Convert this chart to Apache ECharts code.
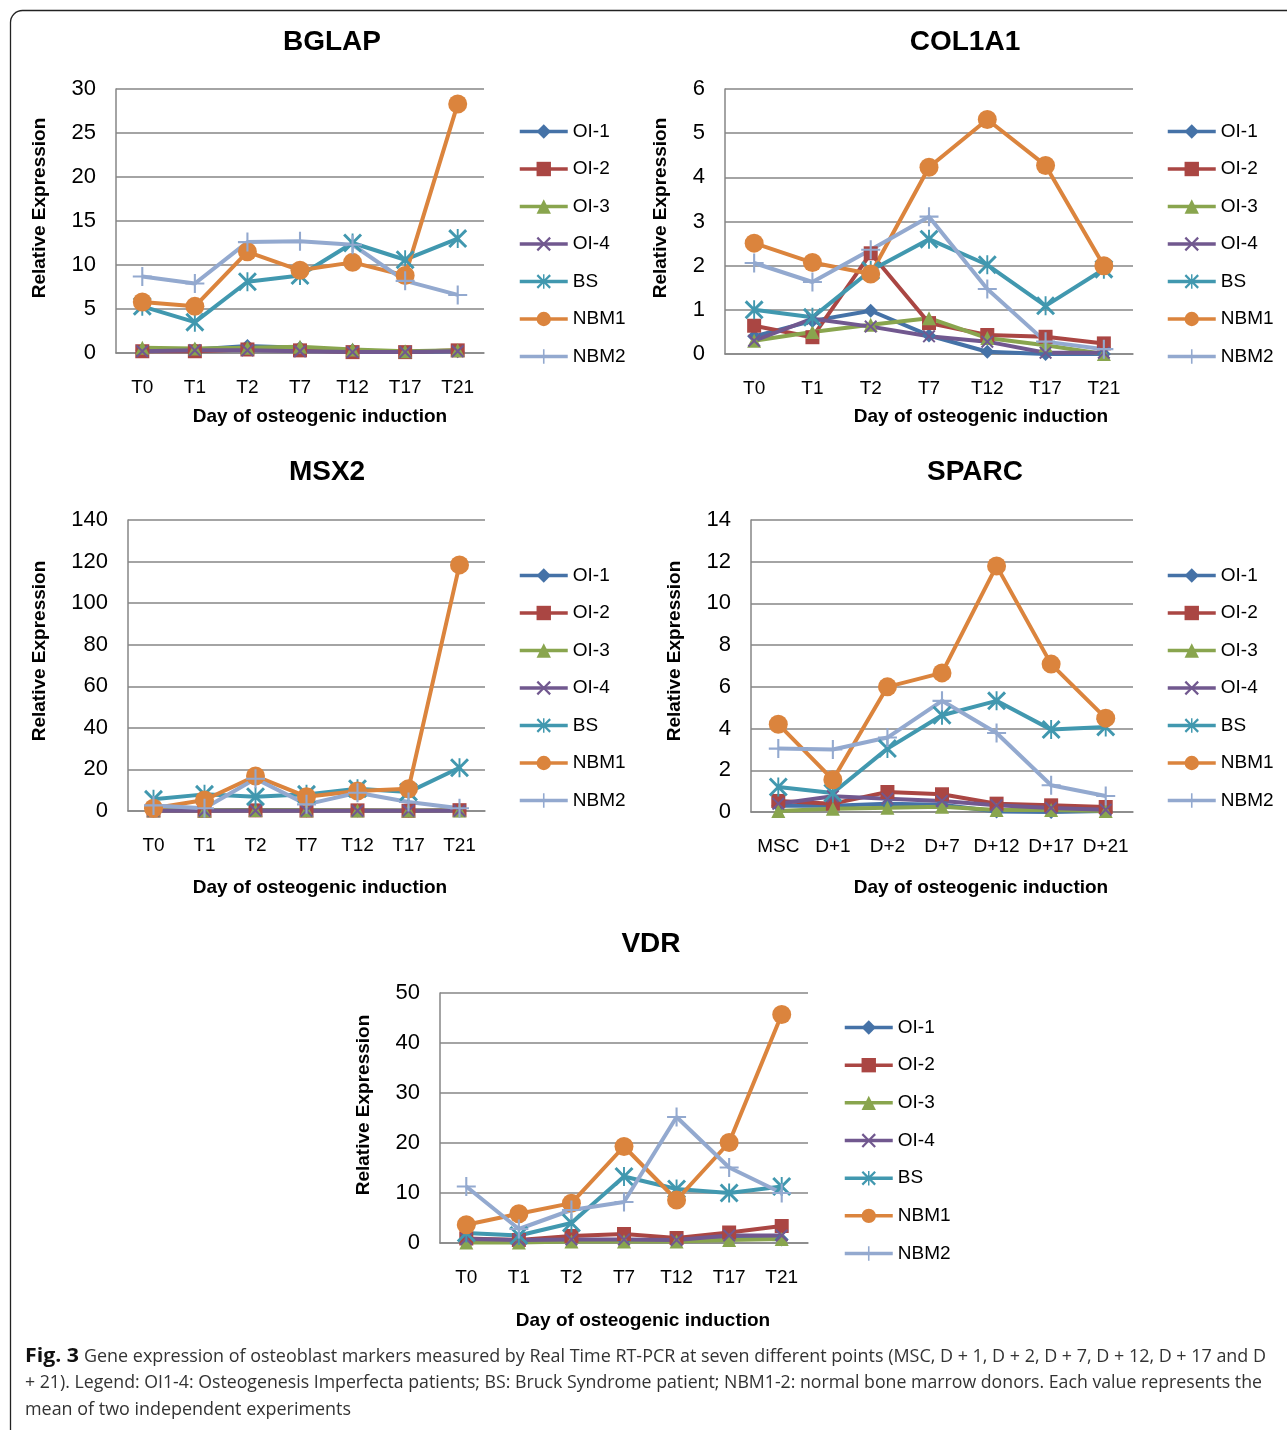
<!DOCTYPE html>
<html><head><meta charset="utf-8">
<script src="https://cdn.jsdelivr.net/npm/echarts@6/dist/echarts.min.js"></script>
<style>html,body{margin:0;padding:0;background:#fff}#c{width:1287px;height:1430px}</style>
</head><body><div id="c"></div>
<script>
// ---- categories & labels ----
const categoriesT = ['T0','T1','T2','T7','T12','T17','T21'];
const categoriesSPARC = ['MSC','D+1','D+2','D+7','D+12','D+17','D+21'];
const seriesNames = ['OI-1','OI-2','OI-3','OI-4','BS','NBM1','NBM2'];
const geneTitles = ['BGLAP','COL1A1','MSX2','SPARC','VDR'];
const yMax = [30, 6, 140, 14, 50];
const yStep = [5, 1, 20, 2, 10];

// ---- BGLAP ----
const BGLAP_OI1  = [0.3,0.4,0.8,0.6,0.3,0.1,0.2];
const BGLAP_OI2  = [0.2,0.2,0.4,0.3,0.1,0.1,0.3];
const BGLAP_OI3  = [0.6,0.5,0.6,0.7,0.4,0.2,0.3];
const BGLAP_OI4  = [0.2,0.3,0.3,0.2,0.1,0.1,0.2];
const BGLAP_BS   = [5.3,3.5,8.1,8.8,12.5,10.6,13.0];
const BGLAP_NBM1 = [5.8,5.3,11.5,9.4,10.3,8.8,28.3];
const BGLAP_NBM2 = [8.7,7.9,12.6,12.7,12.3,8.2,6.6];
// ---- COL1A1 ----
const COL1A1_OI1  = [0.4,0.75,0.98,0.42,0.05,0.0,0.0];
const COL1A1_OI2  = [0.64,0.38,2.28,0.7,0.43,0.39,0.24];
const COL1A1_OI3  = [0.3,0.5,0.66,0.81,0.36,0.2,0.0];
const COL1A1_OI4  = [0.3,0.8,0.62,0.4,0.28,0.03,0.03];
const COL1A1_BS   = [1.0,0.83,1.89,2.6,2.02,1.09,1.92];
const COL1A1_NBM1 = [2.51,2.07,1.81,4.23,5.31,4.27,2.0];
const COL1A1_NBM2 = [2.06,1.63,2.36,3.11,1.47,0.28,0.11];
// ---- MSX2 ----
const MSX2_OI1  = [0.3,0.2,0.4,0.3,0.2,0.1,0.2];
const MSX2_OI2  = [0.2,0.1,0.3,0.2,0.3,0.1,0.4];
const MSX2_OI3  = [0.4,0.3,0.5,0.4,0.3,0.2,0.3];
const MSX2_OI4  = [0.1,0.1,0.2,0.1,0.1,0.1,0.1];
const MSX2_BS   = [5.6,8.0,6.9,8.0,10.7,9.1,20.8];
const MSX2_NBM1 = [1.3,5.3,16.8,6.9,9.6,10.7,118.4];
const MSX2_NBM2 = [2.7,1.3,15.5,3.2,8.8,4.3,1.3];
// ---- SPARC ----
const SPARC_OI1  = [0.3,0.3,0.4,0.35,0.02,0.0,0.05];
const SPARC_OI2  = [0.53,0.4,0.96,0.85,0.4,0.32,0.24];
const SPARC_OI3  = [0.05,0.15,0.2,0.25,0.1,0.1,0.05];
const SPARC_OI4  = [0.4,0.75,0.64,0.53,0.32,0.19,0.11];
const SPARC_BS   = [1.2,0.91,3.04,4.64,5.33,3.95,4.08];
const SPARC_NBM1 = [4.21,1.55,6.0,6.67,11.8,7.09,4.5];
const SPARC_NBM2 = [3.04,3.0,3.57,5.33,3.79,1.28,0.77];
// ---- VDR ----
const VDR_OI1  = [0.5,0.4,0.6,0.6,0.5,1.2,0.7];
const VDR_OI2  = [0.9,0.6,1.4,1.8,1.0,2.1,3.4];
const VDR_OI3  = [0.1,0.1,0.3,0.3,0.3,0.6,0.8];
const VDR_OI4  = [0.8,0.6,0.7,0.7,0.6,1.5,1.5];
const VDR_BS   = [2.0,1.5,4.0,13.3,10.8,10.0,11.3];
const VDR_NBM1 = [3.65,5.84,7.97,19.3,8.6,20.1,45.7];
const VDR_NBM2 = [11.3,2.8,6.6,8.2,25.2,15.1,10.0];

const geneData = [
  [BGLAP_OI1,BGLAP_OI2,BGLAP_OI3,BGLAP_OI4,BGLAP_BS,BGLAP_NBM1,BGLAP_NBM2],
  [COL1A1_OI1,COL1A1_OI2,COL1A1_OI3,COL1A1_OI4,COL1A1_BS,COL1A1_NBM1,COL1A1_NBM2],
  [MSX2_OI1,MSX2_OI2,MSX2_OI3,MSX2_OI4,MSX2_BS,MSX2_NBM1,MSX2_NBM2],
  [SPARC_OI1,SPARC_OI2,SPARC_OI3,SPARC_OI4,SPARC_BS,SPARC_NBM1,SPARC_NBM2],
  [VDR_OI1,VDR_OI2,VDR_OI3,VDR_OI4,VDR_BS,VDR_NBM1,VDR_NBM2]
];
const geneCats = [categoriesT, categoriesT, categoriesT, categoriesSPARC, categoriesT];

// ---- styling ----
const FONT = "'Liberation Sans', Arial, sans-serif";
const colors = ['#4572A7','#AA4643','#89A54E','#71588F','#4198AF','#DB843D','#93A9CF'];
const X_PATH = 'path://M0,1.1 L1.1,0 L5,3.9 L8.9,0 L10,1.1 L6.1,5 L10,8.9 L8.9,10 L5,6.1 L1.1,10 L0,8.9 L3.9,5 Z';
const STAR_PATH = 'path://M0,1.1 L1.1,0 L5,3.9 L8.9,0 L10,1.1 L6.1,5 L10,8.9 L8.9,10 L5,6.1 L1.1,10 L0,8.9 L3.9,5 Z M4.5,0 L5.5,0 L5.5,10 L4.5,10 Z';
const PLUS_PATH = 'path://M4.45,0 L5.55,0 L5.55,4.45 L10,4.45 L10,5.55 L5.55,5.55 L5.55,10 L4.45,10 L4.45,5.55 L0,5.55 L0,4.45 L4.45,4.45 Z';
const symbols = ['diamond','rect','triangle',X_PATH,STAR_PATH,'circle',PLUS_PATH];
const symSizes = [14,14,14,13,19,19,19];

const grids = [
  {left:116, top:89,  width:368, height:264},
  {left:725, top:89,  width:408, height:265},
  {left:128, top:520, width:357, height:291},
  {left:751, top:520, width:382, height:292},
  {left:440, top:993, width:368, height:250}
];
const titlePos = [[332,42],[965,42],[327,472],[975,472],[651,944]];
const xNamePos = [[320,417],[981,417],[320,888],[981,888],[643,1321]];
const yNamePos = [[40,208],[661,208],[40,651],[675,651],[364,1105]];
const legendPos = [[518,130],[1166,130],[518,574],[1166,574],[843,1026]];
const legendStep = [37.5,37.5,37.5,37.5,37.67];

const xAxes = [], yAxes = [], series = [], legends = [], graphics = [];
grids.forEach((g,i)=>{
  xAxes.push({gridIndex:i,type:'category',data:geneCats[i],boundaryGap:true,
    axisLine:{lineStyle:{color:'#868686',width:1.5}},axisTick:{show:false},
    axisLabel:{color:'#000',fontSize:19,margin:25,interval:0,fontFamily:FONT},splitLine:{show:false}});
  yAxes.push({gridIndex:i,type:'value',min:0,max:yMax[i],interval:yStep[i],
    axisLine:{show:true,lineStyle:{color:'#868686',width:1.5}},axisTick:{show:false},
    axisLabel:{color:'#000',fontSize:22,margin:20,fontFamily:FONT},
    splitLine:{lineStyle:{color:'#868686',width:1.5}}});
  seriesNames.forEach((n,k)=>{
    series.push({type:'line',name:n,xAxisIndex:i,yAxisIndex:i,data:geneData[i][k],
      symbol:symbols[k],symbolSize:symSizes[k],showAllSymbol:true,
      lineStyle:{color:colors[k],width:4},itemStyle:{color:colors[k]},
      emphasis:{disabled:true},silent:true,animation:false});
  });
  legends.push({left:legendPos[i][0],top:legendPos[i][1]-8,orient:'vertical',padding:0,
    itemWidth:48,itemHeight:18,itemGap:legendStep[i]-19,data:seriesNames,selectedMode:false,
    lineStyle:{width:3.5},
    textStyle:{fontSize:19,color:'#000',fontFamily:FONT,padding:[0,0,0,0]}});
  graphics.push({type:'text',x:titlePos[i][0],y:titlePos[i][1],
    style:{text:geneTitles[i],font:"bold 28px "+FONT,fill:'#000',textAlign:'center',textVerticalAlign:'middle'}});
  graphics.push({type:'text',x:xNamePos[i][0],y:xNamePos[i][1],
    style:{text:'Day of osteogenic induction',font:"bold 19px "+FONT,fill:'#000',textAlign:'center',textVerticalAlign:'middle'}});
  graphics.push({type:'text',x:yNamePos[i][0],y:yNamePos[i][1],rotation:Math.PI/2,
    style:{text:'Relative Expression',font:"bold 19px "+FONT,fill:'#000',textAlign:'center',textVerticalAlign:'middle'}});
});

// frame
graphics.push({type:'rect',shape:{x:10.5,y:10.5,width:1320,height:1460,r:12},
  style:{fill:'none',stroke:'#222',lineWidth:1.3},z:-1});

// caption
const capFont = "'Open Sans', sans-serif";
const mctx = document.createElement('canvas').getContext('2d');
function fitScale(text, font, target){ mctx.font = font; return target / mctx.measureText(text).width; }
const capBold = 'Fig. 3';
const cap1 = 'Gene expression of osteoblast markers measured by Real Time RT-PCR at seven different points (MSC, D + 1, D + 2, D + 7, D + 12, D + 17 and D';
const cap2 = '+ 21). Legend: OI1-4: Osteogenesis Imperfecta patients; BS: Bruck Syndrome patient; NBM1-2: normal bone marrow donors. Each value represents the';
const cap3 = 'mean of two independent experiments';
const fb = "bold 19px " + capFont, fn = "18px " + capFont;
const s0 = fitScale(capBold, fb, 54);
const s1 = fitScale(cap1, fn, 1182);
const s2 = fitScale(cap2, fn, 1237);
const s3 = s1;
graphics.push({type:'text',x:25,y:1357,scaleX:s0,style:{text:capBold,font:fb,fill:'#111',textVerticalAlign:'middle'}});
graphics.push({type:'text',x:84,y:1357,scaleX:s1,style:{text:cap1,font:fn,fill:'#333',textVerticalAlign:'middle'}});
graphics.push({type:'text',x:25,y:1383,scaleX:s2,style:{text:cap2,font:fn,fill:'#333',textVerticalAlign:'middle'}});
graphics.push({type:'text',x:25,y:1410,scaleX:s3,style:{text:cap3,font:fn,fill:'#333',textVerticalAlign:'middle'}});

const chart = echarts.init(document.getElementById('c'), null, {renderer:'canvas'});
chart.setOption({
  animation:false,
  backgroundColor:'#fff',
  grid:grids,
  xAxis:xAxes,
  yAxis:yAxes,
  legend:legends,
  series:series,
  graphic:graphics
});
</script></body></html>
